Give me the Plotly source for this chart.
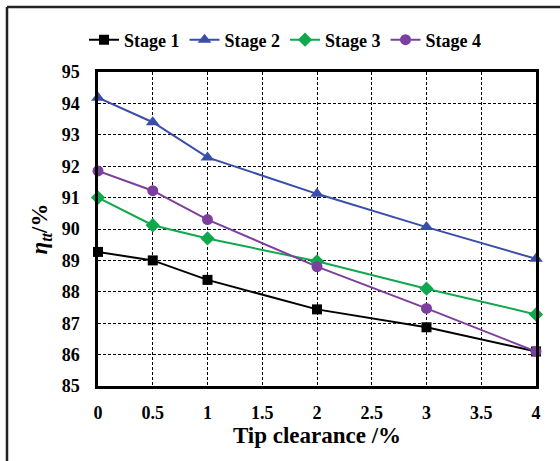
import plotly.graph_objects as go

x_vals = [0, 0.5, 1, 2, 3, 4]
stage1 = [89.27, 89.0, 88.38, 87.44, 86.87, 86.1]
stage2 = [94.18, 93.4, 92.28, 91.12, 90.06, 89.05]
stage3 = [91.0, 90.12, 89.7, 88.97, 88.1, 87.28]
stage4 = [91.85, 91.22, 90.3, 88.8, 87.47, 86.1]

series_names = ["Stage 1", "Stage 2", "Stage 3", "Stage 4"]
series_vals = [stage1, stage2, stage3, stage4]
colors = ["#000000", "#3A4DAA", "#10A84C", "#7D3F9E"]
symbols = ["square", "triangle-up", "diamond", "circle"]
msizes = [10, 12, 11, 11]

x_ticks = [0, 0.5, 1, 1.5, 2, 2.5, 3, 3.5, 4]
x_tick_labels = ["0", "0.5", "1", "1.5", "2", "2.5", "3", "3.5", "4"]
y_ticks = [85, 86, 87, 88, 89, 90, 91, 92, 93, 94, 95]

FONT = "Liberation Serif"

fig = go.Figure()
for name, vals, c, s, ms in zip(series_names, series_vals, colors, symbols, msizes):
    fig.add_trace(go.Scatter(
        x=x_vals, y=vals, name=name, mode="lines+markers",
        line=dict(color=c, width=2),
        marker=dict(symbol=s, size=ms, color=c),
        cliponaxis=False,
    ))

W, H = 560, 461
ml, mr, mt, mb = 98, 24, 72, 75
pw, ph = W - ml - mr, H - mt - mb
fx = (7 - ml) / pw
fy = 1 + (mt - 7) / ph

fig.update_layout(
    width=W, height=H,
    margin=dict(l=ml, r=mr, t=mt, b=mb, pad=0),
    paper_bgcolor="white", plot_bgcolor="white",
    font=dict(family=FONT, size=18, color="black", weight="bold"),
    showlegend=True,
    legend=dict(orientation="h", x=0.427, xanchor="center", y=1 + (mt - 40) / ph, yanchor="middle",
                font=dict(family=FONT, size=18, color="black", weight="bold"),
                itemwidth=30, tracegroupgap=0, bgcolor="rgba(0,0,0,0)"),
    shapes=[
        dict(type="line", xref="paper", yref="paper", x0=fx, x1=1.2, y0=fy, y1=fy,
             line=dict(color="#222222", width=2.5)),
        dict(type="line", xref="paper", yref="paper", x0=fx, x1=fx, y0=fy, y1=-0.3,
             line=dict(color="#222222", width=2.5)),
    ],
)

fig.update_xaxes(
    range=[0, 4], tickvals=x_ticks, ticktext=x_tick_labels,
    showgrid=True, gridcolor="black", gridwidth=1.2, griddash="3px,2px",
    showline=True, linecolor="black", linewidth=2.5, mirror=True,
    ticks="", ticklabelstandoff=9, zeroline=False,
    tickfont=dict(family=FONT, size=18, weight="bold"),
    title=dict(text="Tip clearance /%", font=dict(family=FONT, size=23, weight="bold"), standoff=0),
)
fig.update_yaxes(
    range=[85, 95], tickvals=y_ticks,
    showgrid=True, gridcolor="black", gridwidth=1.2, griddash="3px,2px",
    showline=True, linecolor="black", linewidth=2.5, mirror=True,
    ticks="", ticklabelstandoff=12, zeroline=False,
    tickfont=dict(family=FONT, size=18, weight="bold"),
    title=dict(text="<i>η</i><sub><i>tt</i></sub>/%", font=dict(family=FONT, size=23, weight="bold"), standoff=8),
)

fig.write_html("out.html", post_script="document.body.style.margin='0';", config={"displayModeBar": False})
